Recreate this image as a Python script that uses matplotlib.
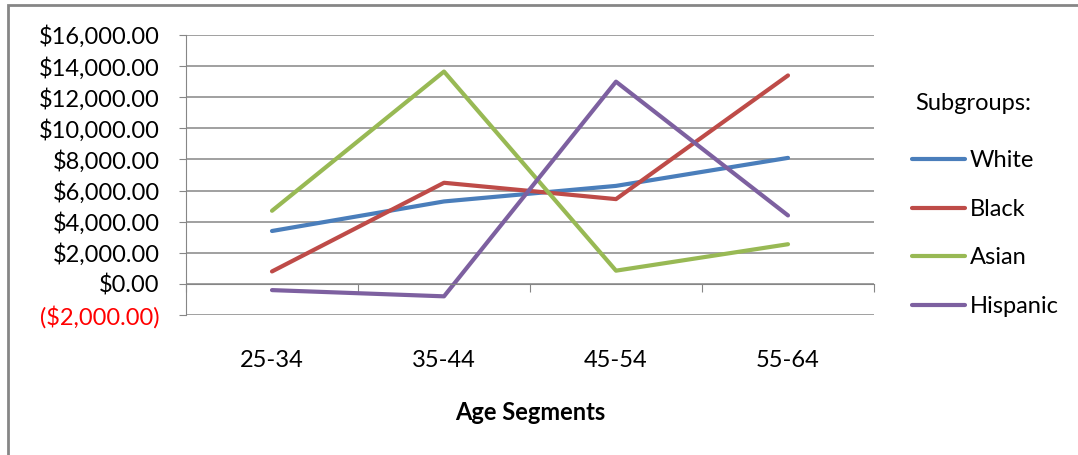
import matplotlib
matplotlib.use("Agg")
import matplotlib.pyplot as plt
from matplotlib.patches import Rectangle
from matplotlib.ticker import FuncFormatter

# values
ages = ["25-34", "35-44", "45-54", "55-64"]
white = [3400, 5300, 6300, 8100]
black = [800, 6500, 5450, 13400]
asian = [4700, 13650, 850, 2550]
hispanic = [-400, -800, 13000, 4400]
yticks = list(range(-2000, 16001, 2000))

series = [("White", white, "#4A7EBB"),
          ("Black", black, "#BE4B48"),
          ("Asian", asian, "#98B954"),
          ("Hispanic", hispanic, "#7D60A0")]

plt.rcParams["font.family"] = ["Lato", "DejaVu Sans"]
grey = "#868686"
fs = 17

fig = plt.figure(figsize=(10.78, 4.55), dpi=100)
ax = fig.add_axes([186 / 1078, 1 - 315 / 455, (874 - 186) / 1078, (315 - 35) / 455])

x = list(range(len(ages)))
for name, vals, col in series:
    ax.plot(x, vals, color=col, lw=3, label=name, solid_capstyle="round")

ax.set_xlim(-0.5, len(ages) - 0.5)
ax.set_ylim(-2000, 16000)
ax.set_yticks(yticks)


def money(v, pos):
    if v < 0:
        return "(${:,.2f})".format(-v)
    return "${:,.2f}".format(v)


ax.yaxis.set_major_formatter(FuncFormatter(money))
ax.tick_params(axis="y", labelsize=fs, length=5, color=grey, pad=14, labelcolor="black")
ax.yaxis.grid(True, color=grey, lw=1.1)
ax.set_axisbelow(True)
for lab, v in zip(ax.get_yticklabels(), yticks):
    if v < 0:
        lab.set_color("red")

# horizontal axis crosses at zero
ax.spines["bottom"].set_position(("data", 0))
ax.spines["bottom"].set_color(grey)
ax.spines["left"].set_color(grey)
ax.spines["top"].set_visible(False)
ax.spines["right"].set_visible(False)
ax.set_xticks([i - 0.5 for i in range(len(ages) + 1)])
ax.set_xticklabels([])
ax.tick_params(axis="x", length=6, color=grey, direction="out")

sec = ax.secondary_xaxis("bottom")
sec.set_xticks(x)
sec.set_xticklabels(ages, fontsize=fs)
sec.tick_params(length=0, pad=25)
sec.spines["bottom"].set_visible(False)
sec.set_xlabel("Age Segments", fontsize=fs, fontweight="bold", labelpad=22)

fig.text(915 / 1078, 1 - 104 / 455, "Subgroups:", fontsize=fs, va="center", ha="left")
leg = fig.legend(loc="upper left", bbox_to_anchor=(891 / 1078, 1 - 129 / 455),
                 frameon=False, fontsize=fs,
                 handlelength=2.25, handletextpad=0.2, labelspacing=1.17)
for h in leg.get_lines():
    h.set_linewidth(3)

fig.patches.append(Rectangle((8 / 1078, -0.1), 1.2, 1.1 - 5 / 455, transform=fig.transFigure,
                             fill=False, edgecolor=grey, lw=2))

fig.savefig("out.png", dpi=100)
